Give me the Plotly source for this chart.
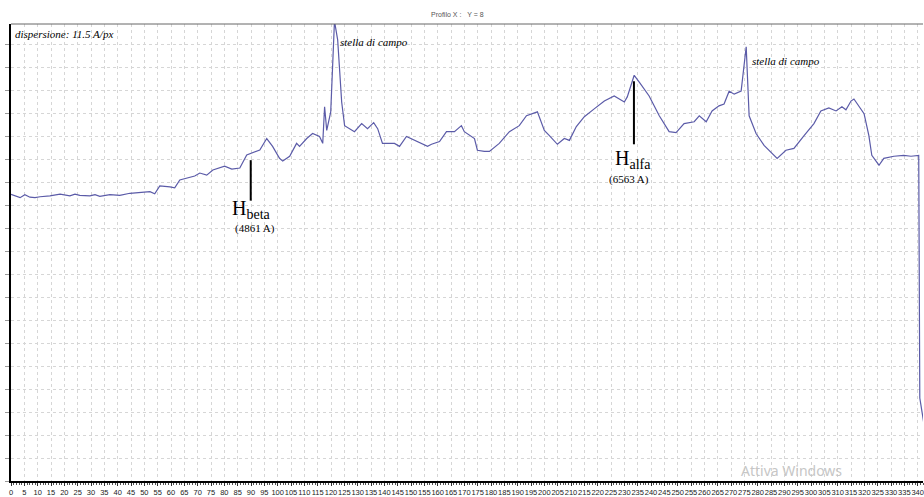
import plotly.graph_objects as go

# spectrum profile (pixel index vs intensity, arbitrary units)
px = [0, 3.4, 5.2, 7.1, 9.0, 10.9, 14.6, 18.4, 22.1, 24.0, 25.8, 29.6, 31.5, 33.3, 37.1,
      40.8, 44.6, 48.3, 52.1, 53.9, 55.8, 59.6, 61.4, 63.3, 67.0, 68.9, 70.8, 73.4, 75.7,
      78.3, 80.1, 82.8, 85.8, 88.4, 93.3, 95.9, 98.1, 100.7, 101.9, 104.5, 107.1, 108.2,
      110.9, 113.1, 115.7, 116.9, 117.6, 118.4, 119.9, 121.3, 122.5, 124.0, 125.1, 128.8,
      131.5, 133.7, 136.0, 137.5, 139.3, 143.8, 145.7, 148.3, 151.3, 154.3, 156.2, 157.7,
      160.7, 163.3, 166.3, 168.9, 170.0, 173.8, 174.9, 177.5, 179.4, 183.1, 186.9, 190.6,
      193.3, 197.4, 200.0, 201.9, 204.9, 207.5, 209.4, 212.0, 215.0, 218.7, 222.5, 226.2,
      230.0, 231.1, 232.6, 233.7, 235.6, 239.3, 243.1, 246.8, 249.4, 252.4, 256.2, 258.1,
      260.7, 262.9, 265.5, 267.4, 269.3, 271.2, 273.8, 275.7, 276.8, 279.4, 282.4, 286.1,
      287.3, 290.6, 293.6, 297.4, 301.1, 303.7, 306.7, 309.4, 311.6, 313.1, 315.0, 316.1,
      318.0, 319.9, 321.7, 322.8, 325.5, 327.3, 331.1, 334.8, 337.5, 340.4, 340.8, 343.0]
intensity = [124.6, 123.2, 124.5, 123.4, 123.2, 123.6, 124.0, 124.7, 124.0, 124.7, 124.2,
             124.0, 124.5, 123.8, 124.5, 124.2, 125.1, 125.3, 125.8, 124.9, 128.3, 127.9,
             127.5, 130.9, 132.2, 132.6, 133.9, 133.0, 135.2, 136.1, 136.9, 135.6, 136.1,
             141.8, 143.9, 148.9, 145.5, 140.3, 139.1, 141.2, 146.8, 145.5, 148.9, 151.1,
             149.8, 146.8, 162.7, 152.4, 160.5, 200.0, 191.8, 164.8, 154.5, 151.9, 155.4,
             153.2, 155.8, 153.2, 146.8, 146.8, 145.5, 149.8, 148.1, 146.4, 145.5, 146.4,
             147.6, 151.9, 151.9, 154.5, 151.9, 148.9, 143.8, 143.3, 143.3, 146.8, 151.9,
             154.5, 158.8, 160.5, 152.4, 150.2, 146.4, 148.9, 148.1, 154.1, 158.4, 161.8,
             165.2, 167.4, 164.8, 167.0, 172.5, 176.4, 173.4, 167.4, 158.8, 151.9, 151.5,
             155.4, 156.2, 158.8, 156.2, 160.9, 163.1, 163.9, 169.5, 168.2, 169.5, 188.8,
             158.8, 151.1, 145.9, 141.6, 140.3, 143.8, 144.6, 150.2, 155.4, 160.9, 162.2,
             160.9, 162.7, 161.4, 165.2, 166.1, 163.1, 159.7, 150.2, 141.6, 137.3, 140.3,
             141.2, 141.6, 141.2, 141.6, 36.1, 20.0]

x_ticks = list(range(0, 345, 5))
x_tick_labels = [str(v) for v in x_ticks]

line_names = ["H<sub>beta</sub>", "H<sub>alfa</sub>"]
line_wavelengths = ["(4861 A)", "(6563 A)"]
line_pos = [89.9, 233.6]
line_top = [139.5, 173.8]
line_bottom = [121.9, 146.4]

fig = go.Figure()
fig.add_trace(go.Scatter(x=px, y=intensity, mode="lines",
                         line=dict(color="#5b5ba8", width=1.2),
                         showlegend=False, hoverinfo="skip"))

serif = "Liberation Serif, Times New Roman, serif"
for xp, yt, yb in zip(line_pos, line_top, line_bottom):
    fig.add_shape(type="line", x0=xp, x1=xp, y0=yb, y1=yt, xref="x", yref="y",
                  line=dict(color="black", width=2))

fig.add_annotation(x=82.0, y=118.0, xref="x", yref="y", text=line_names[0],
                   showarrow=False, xanchor="left", yanchor="middle",
                   font=dict(family=serif, size=20, color="black"))
fig.add_annotation(x=91.4, y=110.0, xref="x", yref="y", text=line_wavelengths[0],
                   showarrow=False, xanchor="center", yanchor="middle",
                   font=dict(family=serif, size=11, color="black"))
fig.add_annotation(x=225.8, y=140.0, xref="x", yref="y", text=line_names[1],
                   showarrow=False, xanchor="left", yanchor="middle",
                   font=dict(family=serif, size=20, color="black"))
fig.add_annotation(x=231.8, y=131.2, xref="x", yref="y", text=line_wavelengths[1],
                   showarrow=False, xanchor="center", yanchor="middle",
                   font=dict(family=serif, size=11, color="black"))

fig.add_annotation(x=0.6, y=194.5, xref="x", yref="y", text="<i>dispersione: 11.5 A/px</i>",
                   showarrow=False, xanchor="left", yanchor="middle",
                   font=dict(family=serif, size=11, color="black"))
fig.add_annotation(x=122.8, y=191.0, xref="x", yref="y", text="<i>stella di campo</i>",
                   showarrow=False, xanchor="left", yanchor="middle",
                   font=dict(family=serif, size=11, color="black"))
fig.add_annotation(x=277.2, y=182.4, xref="x", yref="y", text="<i>stella di campo</i>",
                   showarrow=False, xanchor="left", yanchor="middle",
                   font=dict(family=serif, size=11, color="black"))

fig.add_annotation(x=0.49, y=1.0, xref="paper", yref="paper", yshift=10,
                   text="Profilo X :&nbsp;&nbsp;&nbsp;Y = 8", showarrow=False,
                   xanchor="center", yanchor="middle",
                   font=dict(family="Liberation Sans, Arial, sans-serif", size=7, color="#555"))
fig.add_annotation(x=0.8555, y=0.022, xref="paper", yref="paper",
                   text="Attiva Windows", showarrow=False, xanchor="center", yanchor="middle",
                   font=dict(family="Noto Sans, sans-serif", size=14, color="#c6c6c6"))

fig.add_shape(type="line", xref="paper", yref="paper", x0=0, x1=1, y0=1, y1=1,
              line=dict(color="#666", width=1))

fig.update_layout(
    width=924, height=497,
    margin=dict(l=11, r=0, t=24, b=10),
    paper_bgcolor="white", plot_bgcolor="white",
    xaxis=dict(range=[0, 342], tickmode="array", tickvals=x_ticks, ticktext=x_tick_labels,
               tickangle=0, ticklabeloverflow="allow",
               showgrid=True, gridcolor="#d6d6d6", griddash="3px,3px",
               gridwidth=1, zeroline=False, showline=True, linecolor="black", linewidth=2,
               ticks="outside", ticklen=3, tickcolor="#333",
               minor=dict(dtick=1, ticks="outside", ticklen=2, tickcolor="#555", showgrid=False),
               tickfont=dict(family="Liberation Sans, Arial, sans-serif", size=7.5, color="#222")),
    yaxis=dict(range=[0, 198.7], dtick=10, tick0=0, showticklabels=False, showgrid=True,
               gridcolor="#d6d6d6", griddash="3px,3px", gridwidth=1, zeroline=False,
               showline=True, linecolor="black", linewidth=2,
               ticks="outside", ticklen=4, tickcolor="#999"),
)

fig.write_html("out.html")
